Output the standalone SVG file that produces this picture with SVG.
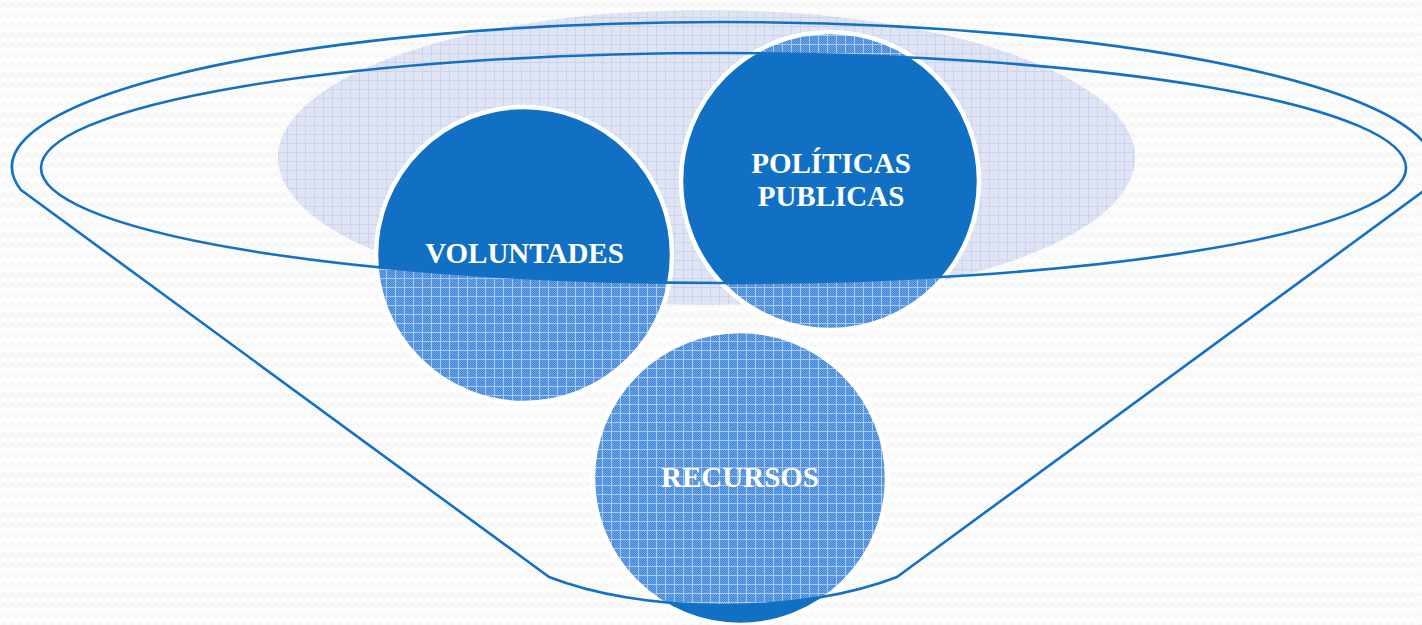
<svg xmlns="http://www.w3.org/2000/svg" width="1422" height="625" viewBox="0 0 1422 625">
  <defs>
    <style>
      .lbl { font-family: "Liberation Serif", "DejaVu Serif", serif; font-weight: bold; font-size: 29px; fill: #ffffff; text-anchor: middle; }
      .outline { fill: none; stroke: #1470C4; stroke-width: 2.6; stroke-linejoin: round; }
      .ring { fill: none; stroke: #ffffff; stroke-width: 4.5; }
      .pat { fill: url(#bluePat); }
      .solid { fill: #1170C4; }
    </style>
    <pattern id="bgPat" width="16" height="10" patternUnits="userSpaceOnUse">
      <rect width="16" height="10" fill="#fcfcfc"/>
      <polyline points="0,7 4,3 8,7 12,3 16,7" fill="none" stroke="#f5f5f5" stroke-width="1.5"/>
    </pattern>
    <pattern id="chkBlue" width="2" height="2" patternUnits="userSpaceOnUse">
      <rect width="2" height="2" fill="#6EA6E5"/>
      <rect width="1" height="1" fill="#3F84D5"/>
      <rect x="1" y="1" width="1" height="1" fill="#3F84D5"/>
    </pattern>
    <pattern id="bluePat" width="9" height="9" patternUnits="userSpaceOnUse">
      <rect width="9" height="9" fill="url(#chkBlue)"/>
      <rect x="8" y="0" width="1" height="9" fill="#A8CAF0"/>
      <rect x="0" y="8" width="9" height="1" fill="#A8CAF0"/>
    </pattern>
    <pattern id="chkLav" width="2" height="2" patternUnits="userSpaceOnUse">
      <rect width="2" height="2" fill="#E9ECF7"/>
      <rect width="1" height="1" fill="#D7DDF1"/>
      <rect x="1" y="1" width="1" height="1" fill="#D7DDF1"/>
    </pattern>
    <pattern id="lavPat" width="9" height="9" patternUnits="userSpaceOnUse">
      <rect width="9" height="9" fill="url(#chkLav)"/>
      <rect x="8" y="0" width="1" height="9" fill="#CBD3EE"/>
      <rect x="0" y="8" width="9" height="1" fill="#CBD3EE"/>
    </pattern>
    <clipPath id="solidClip">
      <ellipse cx="723.5" cy="168" rx="682.5" ry="115"/>
      <path d="M 549,577 A 250 100 0 0 0 897,577 L 897,625 L 549,625 Z"/>
    </clipPath>
  </defs>

  <rect width="1422" height="625" fill="url(#bgPat)"/>

  <g id="backdrop">
    <ellipse cx="706.5" cy="157.5" rx="428.5" ry="147.5" fill="url(#lavPat)"/>
  </g>

  <g id="node-voluntades">
    <circle class="pat" cx="524" cy="255" r="148"/>
    <circle class="solid" cx="524" cy="255" r="148" clip-path="url(#solidClip)"/>
    <circle class="ring" cx="524" cy="255" r="148"/>
  </g>

  <g id="node-politicas">
    <circle class="pat" cx="830" cy="181" r="149"/>
    <circle class="solid" cx="830" cy="181" r="149" clip-path="url(#solidClip)"/>
    <circle class="ring" cx="830" cy="181" r="149"/>
  </g>

  <g id="node-recursos">
    <circle class="pat" cx="740" cy="478" r="147"/>
    <circle class="solid" cx="740" cy="478" r="147" clip-path="url(#solidClip)"/>
    <circle class="ring" cx="740" cy="478" r="147"/>
  </g>

  <g id="connectors">
    <path class="outline" d="M 21,190 A 711 145 0 1 1 1425,190 L 897,577 A 250 100 0 0 1 549,577 Z"/>
    <ellipse class="outline" cx="723.5" cy="168" rx="682.5" ry="115"/>
  </g>

  <g id="labels">
    <text class="lbl" x="524.5" y="263">VOLUNTADES</text>
    <text class="lbl" x="831" y="173">POLÍTICAS</text>
    <text class="lbl" x="831" y="206">PUBLICAS</text>
    <text class="lbl" x="740" y="487">RECURSOS</text>
  </g>
</svg>
